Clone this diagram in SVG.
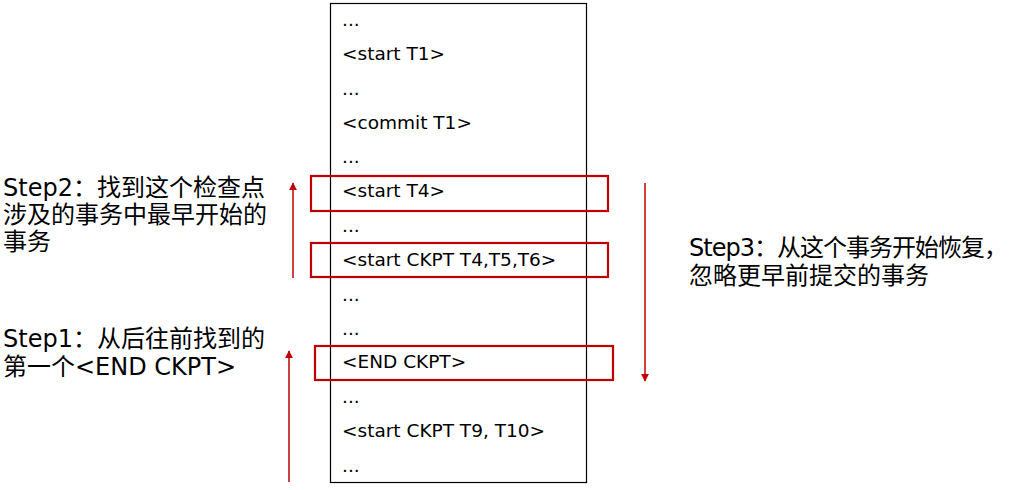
<svg xmlns="http://www.w3.org/2000/svg" width="1012" height="490" viewBox="0 0 1012 490">
<defs>
<style>
.log{font-family:"DejaVu Sans","Noto Sans CJK SC",sans-serif;font-size:18.5px;fill:#000}
.lbl{font-family:"DejaVu Sans","Noto Sans CJK SC",sans-serif;font-size:24px;fill:#000}
.hl{fill:none;stroke:#C00000;stroke-width:2.2}
.arr{stroke:#C00000;stroke-width:1.5;fill:none}
</style>
<marker id="ah" viewBox="0 0 10 10" refX="9" refY="5" markerWidth="8" markerHeight="8" markerUnits="userSpaceOnUse" orient="auto">
<path d="M0,0 L10,5 L0,10 z" fill="#C00000"/>
</marker>
</defs>
<rect width="1012" height="490" fill="#fff"/>
<g id="log">
<rect x="330.5" y="3.5" width="256" height="479" fill="none" stroke="#000" stroke-width="1.2"/>
<text class="log" x="342" y="26">...</text>
<text class="log" x="342" y="60">&lt;start T1&gt;</text>
<text class="log" x="342" y="95">...</text>
<text class="log" x="342" y="129">&lt;commit T1&gt;</text>
<text class="log" x="342" y="163">...</text>
<text class="log" x="342" y="197">&lt;start T4&gt;</text>
<text class="log" x="342" y="232">...</text>
<text class="log" x="342" y="266">&lt;start CKPT T4,T5,T6&gt;</text>
<text class="log" x="342" y="301">...</text>
<text class="log" x="342" y="335">...</text>
<text class="log" x="342" y="368">&lt;END CKPT&gt;</text>
<text class="log" x="342" y="403">...</text>
<text class="log" x="342" y="437">&lt;start CKPT T9, T10&gt;</text>
<text class="log" x="342" y="472">...</text>
</g>
<g id="highlights">
<rect class="hl" x="311" y="176" width="297" height="35"/>
<rect class="hl" x="311" y="243" width="297" height="34"/>
<rect class="hl" x="315" y="346" width="298" height="34"/>
</g>
<g id="connectors">
<line class="arr" x1="293" y1="278" x2="293" y2="183" marker-end="url(#ah)"/>
<line class="arr" x1="289" y1="482" x2="289" y2="351" marker-end="url(#ah)"/>
<line class="arr" x1="645" y1="183" x2="645" y2="381" marker-end="url(#ah)"/>
</g>
<g id="step2">
<text class="lbl" x="3" y="196">Step2：找到这个检查点</text>
<text class="lbl" x="3" y="223">涉及的事务中最早开始的</text>
<text class="lbl" x="3" y="250">事务</text>
</g>
<g id="step1">
<text class="lbl" x="3" y="347">Step1：从后往前找到的</text>
<text class="lbl" x="3" y="375">第一个&lt;END CKPT&gt;</text>
</g>
<g id="step3">
<text class="lbl" x="689" y="256" letter-spacing="-1">Step3：从这个事务开始恢复，</text>
<text class="lbl" x="689" y="284">忽略更早前提交的事务</text>
</g>
</svg>
